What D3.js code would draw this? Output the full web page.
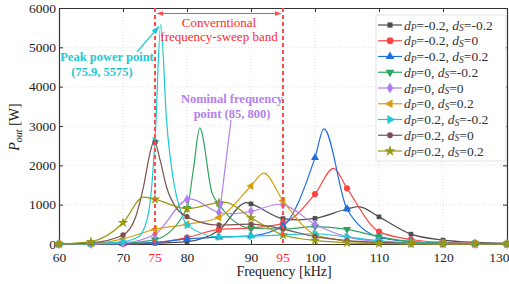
<!DOCTYPE html>
<html><head><meta charset="utf-8">
<script src="https://cdn.jsdelivr.net/npm/d3@7"></script>
<style>body{margin:0;background:#fff}svg{display:block}text{font-family:"Liberation Serif","Times New Roman",Times,serif}</style>
</head><body><svg id="c" width="509" height="284"></svg>
<script>
const freqs = [60,65,70,75,80,85,90,95,100,105,110,115,120,125,130];
const xTicks = [60,70,80,90,100,110,120,130];
const yTicks = [0,1000,2000,3000,4000,5000,6000];
const bandTicks = [75,95];

// values at marker frequencies
const sGray   = [0,2,5,20,60,350,1020,645,650,890,690,250,100,42,20];
const sRed    = [0,1,5,30,160,370,410,525,1270,1415,315,115,40,15,5];
const sBlue   = [0,1,5,40,130,175,205,465,2195,890,172,60,20,10,5];
const sGreen  = [0,5,20,110,905,1010,400,380,440,373,187,60,20,10,5];
const sPurple = [0,5,30,250,1130,800,830,1000,500,180,60,20,10,5,3];
const sGold   = [0,10,130,375,500,675,1475,1100,240,80,30,10,5,2,1];
const sCyan   = [0,10,60,2620,480,180,200,230,260,180,80,30,10,5,2];
const sBrown  = [0,30,230,2580,695,483,505,380,186,86,40,15,5,2,1];
const sOlive  = [0,60,540,1136,900,1050,665,229,90,30,10,5,2,1,0];

// extra curve points (peaks / shoulders)
const xGray   = [[89.3,1050],[97.5,615],[106.8,950]];
const xRed    = [[102.9,1925]];
const xBlue   = [[101.4,2925]];
const xGreen  = [[81,1900],[82,2950],[83.9,1300]];
const xPurple = [[80.5,1145],[87,770],[94.5,1010]];
const xGold   = [[92,1800]];
const xCyan   = [[72.5,200],[74,800],[75.9,5575],[76.8,3150],[78,1500],[79,850]];
const xBrown  = [[72,700],[73.2,1450],[74.2,2300],[74.8,2590],[75.8,2130],[76.8,1450],[78.4,900]];
const xOlive  = [[73.2,1190],[86,1060]];

const labels = [["-0.2","-0.2"],["-0.2","0"],["-0.2","0.2"],["0","-0.2"],["0","0"],["0","0.2"],["0.2","-0.2"],["0.2","0"],["0.2","0.2"]];
const colors = ["#4d4d4d","#ff4444","#1f6fe0","#2ea463","#b27ff0","#d4a012","#1cc9d2","#7b5050","#999914"];

const series = [
 {v:sGray,e:xGray,sym:d3.symbolSquare,rot:0,size:22},
 {v:sRed,e:xRed,sym:d3.symbolCircle,rot:0,size:30},
 {v:sBlue,e:xBlue,sym:d3.symbolTriangle,rot:0,size:28},
 {v:sGreen,e:xGreen,sym:d3.symbolTriangle,rot:180,size:28},
 {v:sPurple,e:xPurple,sym:d3.symbolDiamond,rot:0,size:30},
 {v:sGold,e:xGold,sym:d3.symbolTriangle,rot:-90,size:28},
 {v:sCyan,e:xCyan,sym:d3.symbolTriangle,rot:90,size:28},
 {v:sBrown,e:xBrown,sym:d3.symbolCircle,rot:0,size:22},
 {v:sOlive,e:xOlive,sym:d3.symbolStar,rot:0,size:34}
];

const svg = d3.select("#c");
const L=59,R=507,T=8,B=244;
const x = d3.scaleLinear().domain([60,130]).range([L,R]);
const y = d3.scaleLinear().domain([0,6000]).range([B,T]);
const FONT = "Liberation Serif, Times New Roman, Times, serif";

// grid
const g = svg.append("g");
g.selectAll(".gx").data(xTicks.slice(1,-1)).enter().append("line")
 .attr("x1",d=>x(d)).attr("x2",d=>x(d)).attr("y1",T).attr("y2",B)
 .attr("stroke","#d8d8d8").attr("stroke-width",0.8).attr("stroke-dasharray","1,2");
g.selectAll(".gy").data(yTicks.slice(1,-1)).enter().append("line")
 .attr("x1",L).attr("x2",R).attr("y1",d=>y(d)).attr("y2",d=>y(d))
 .attr("stroke","#d8d8d8").attr("stroke-width",0.8).attr("stroke-dasharray","1,2");

// axes
const ax = svg.append("g").attr("transform",`translate(0,${B})`)
 .call(d3.axisBottom(x).tickValues(xTicks).tickSizeInner(-4).tickSizeOuter(0).tickPadding(8).tickFormat(d3.format("d")));
const ay = svg.append("g").attr("transform",`translate(${L},0)`)
 .call(d3.axisLeft(y).tickValues(yTicks).tickSizeInner(-4).tickSizeOuter(0).tickPadding(3).tickFormat(d3.format("d")));
const axT = svg.append("g").attr("transform",`translate(0,${T})`)
 .call(d3.axisTop(x).tickValues(xTicks).tickSizeInner(-4).tickSizeOuter(0).tickFormat(""));
const ayR = svg.append("g").attr("transform",`translate(${R},0)`)
 .call(d3.axisRight(y).tickValues(yTicks).tickSizeInner(-4).tickSizeOuter(0).tickFormat(""));
[ax,ay,axT,ayR].forEach(a=>{
 a.attr("font-family",FONT);
 a.selectAll("path").attr("stroke","#333").attr("stroke-width",1.2);
 a.selectAll("line").attr("stroke","#333");
 a.selectAll("text").attr("font-family",FONT).attr("font-size",13.5).attr("fill","#222");
});
// keep the last x label inside the picture
ax.selectAll(".tick text").filter(d=>d===130).attr("text-anchor","end").attr("x",2);
// red band labels
svg.selectAll(".bt").data(bandTicks).enter().append("text")
 .attr("x",d=>x(d)).attr("y",262).attr("text-anchor","middle")
 .attr("font-family",FONT).attr("font-size",13.5).attr("fill","#ff2a2a").text(d=>d);

// axis titles
svg.append("text").attr("x",284).attr("y",276).attr("text-anchor","middle")
 .attr("font-family",FONT).attr("font-size",14).attr("fill","#222").text("Frequency [kHz]");
const yt = svg.append("text").attr("transform","translate(19,127) rotate(-90)").attr("text-anchor","middle")
 .attr("font-family",FONT).attr("font-size",14).attr("fill","#222");
yt.append("tspan").attr("font-style","italic").text("P");
yt.append("tspan").attr("font-style","italic").attr("font-size",10).attr("dy",3).text("out");
yt.append("tspan").attr("dy",-3).text(" [W]");

// series
const line = d3.line().x(d=>x(d[0])).y(d=>y(d[1])).curve(d3.curveMonotoneX);
series.forEach((s,i)=>{
 const pts = freqs.map((f,j)=>[f,s.v[j]]).concat(s.e).sort((a,b)=>a[0]-b[0]);
 svg.append("path").datum(pts).attr("d",line).attr("fill","none")
  .attr("stroke",colors[i]).attr("stroke-width",1.2);
});
series.forEach((s,i)=>{
 const sym = d3.symbol().type(s.sym).size(s.size);
 svg.append("g").selectAll("path").data(freqs.map((f,j)=>[f,s.v[j]])).enter().append("path")
  .attr("d",sym).attr("fill",colors[i])
  .attr("transform",d=>`translate(${x(d[0])},${y(d[1])}) rotate(${s.rot})`);
});

// red dashed band lines
svg.selectAll(".bl").data(bandTicks).enter().append("line")
 .attr("x1",d=>x(d)).attr("x2",d=>x(d)).attr("y1",T).attr("y2",B)
 .attr("stroke","#ff4d4d").attr("stroke-width",2).attr("stroke-dasharray","4,3");

const defs = svg.append("defs");
function arrowHead(id,color){
 defs.append("marker").attr("id",id).attr("viewBox","0 0 10 10").attr("refX",9).attr("refY",5)
  .attr("markerWidth",7).attr("markerHeight",7).attr("orient","auto-start-reverse")
  .append("path").attr("d","M0,1.5 L10,5 L0,8.5 Z").attr("fill",color);
}
arrowHead("ar","#ff4d4d"); arrowHead("ac","#1cc9d2"); arrowHead("ap","#b27ff0");

svg.append("line").attr("x1",x(75)+2).attr("x2",x(95)-2).attr("y1",13.5).attr("y2",13.5)
 .attr("stroke","#ff4d4d").attr("stroke-width",1)
 .attr("marker-start","url(#ar)").attr("marker-end","url(#ar)");
svg.append("text").attr("x",(x(75)+x(95))/2).attr("y",27).attr("text-anchor","middle")
 .attr("font-family",FONT).attr("font-size",13).attr("fill","#ff2a2a").text("Converntional");
svg.append("text").attr("x",(x(75)+x(95))/2).attr("y",40.5).attr("text-anchor","middle")
 .attr("font-family",FONT).attr("font-size",13).attr("fill","#ff2a2a").text("frequency-sweep band");

// peak annotation
svg.append("line").attr("x1",137).attr("y1",52).attr("x2",x(75.9)-2).attr("y2",y(5575)+2)
 .attr("stroke","#1cc9d2").attr("stroke-width",1.2).attr("marker-end","url(#ac)");
svg.append("text").attr("x",107).attr("y",61).attr("text-anchor","middle")
 .attr("font-family",FONT).attr("font-size",12.5).attr("font-weight","bold").attr("fill","#1cc9d2").text("Peak power point");
svg.append("text").attr("x",102).attr("y",76).attr("text-anchor","middle")
 .attr("font-family",FONT).attr("font-size",12.5).attr("font-weight","bold").attr("fill","#1cc9d2").text("(75.9, 5575)");

// nominal annotation
svg.append("line").attr("x1",231).attr("y1",120).attr("x2",x(85)+1).attr("y2",y(800)-3)
 .attr("stroke","#b27ff0").attr("stroke-width",1.2).attr("marker-end","url(#ap)");
svg.append("text").attr("x",232).attr("y",103).attr("text-anchor","middle")
 .attr("font-family",FONT).attr("font-size",12.5).attr("font-weight","bold").attr("fill","#b27ff0").text("Nominal frequency");
svg.append("text").attr("x",232).attr("y",118).attr("text-anchor","middle")
 .attr("font-family",FONT).attr("font-size",12.5).attr("font-weight","bold").attr("fill","#b27ff0").text("point (85, 800)");

// legend
const lg = svg.append("g");
lg.append("rect").attr("x",376).attr("y",15).attr("width",130).attr("height",146)
 .attr("fill","#fff").attr("stroke","#dcdcdc").attr("stroke-width",0.8);
series.forEach((s,i)=>{
 const cy = 25 + i*15.75;
 lg.append("line").attr("x1",378).attr("x2",402).attr("y1",cy).attr("y2",cy)
  .attr("stroke",colors[i]).attr("stroke-width",1.2);
 lg.append("path").attr("d",d3.symbol().type(s.sym).size(s.size*1.2)())
  .attr("fill",colors[i]).attr("transform",`translate(390,${cy}) rotate(${s.rot})`);
 const t = lg.append("text").attr("x",404).attr("y",cy+4.5)
  .attr("font-family",FONT).attr("font-size",13.5).attr("fill","#333");
 t.append("tspan").attr("font-style","italic").text("d");
 t.append("tspan").attr("font-style","italic").attr("font-size",9.5).attr("dy",1.5).text("P");
 t.append("tspan").attr("dy",-1.5).text("="+labels[i][0]+", ");
 t.append("tspan").attr("font-style","italic").text("d");
 t.append("tspan").attr("font-style","italic").attr("font-size",9.5).attr("dy",1.5).text("S");
 t.append("tspan").attr("dy",-1.5).text("="+labels[i][1]);
});
</script></body></html>
